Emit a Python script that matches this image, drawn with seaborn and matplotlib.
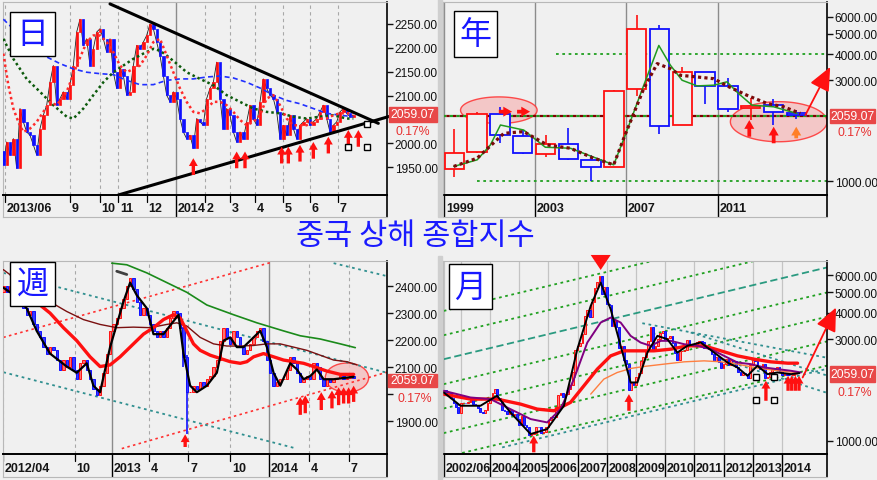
import numpy as np
import matplotlib
matplotlib.use('Agg')
import matplotlib.pyplot as plt
import seaborn as sns
from matplotlib.patches import Rectangle, Ellipse
from matplotlib.ticker import FormatStrFormatter, NullLocator, FixedLocator, NullFormatter

sns.set_theme(style='white')
plt.rcParams['font.family'] = ['Liberation Sans', 'DejaVu Sans']

BG = '#f0f0f0'
UP, DN = '#ff1010', '#1010ff'

# ---------------- 日 (daily) ----------------
d_open0 = 1985
d_close = [1955, 2003, 1976, 2010, 1948, 2073, 2045, 2024, 2017, 1997,
           1976, 2031, 2059, 2080, 2128, 2163, 2080, 2094, 2108, 2094,
           2122, 2163, 2233, 2260, 2205, 2219, 2163, 2198, 2233, 2240,
           2219, 2191, 2219, 2149, 2115, 2156, 2142, 2101, 2108, 2163,
           2205, 2198, 2212, 2226, 2250, 2240, 2212, 2184, 2142, 2101,
           2087, 2108, 2094, 2052, 2024, 2010, 2017, 1990, 2052, 2045,
           2038, 2094, 2115, 2128, 2170, 2094, 2031, 2073, 2059, 2024,
           2003, 2024, 2010, 2045, 2080, 2052, 2038, 2087, 2135, 2115,
           2101, 2094, 2066, 2010, 2038, 2017, 2059, 2031, 2010, 2038,
           2045, 2052, 2038, 2045, 2052, 2066, 2080, 2052, 2024, 2038,
           2045, 2066, 2073, 2063, 2056, 2059.07]
d_ticks = [0.5, 20, 29, 34.5, 43, 51.8, 60.5, 68, 75.5, 84, 92, 100.5]
d_labels = ['2013/06', '9', '10', '11', '12', '2014', '2', '3', '4', '5', '6', '7']
d_year = [False, False, False, False, False, True, False, False, False, False, False, False]
d_yticks = [1950, 2000, 2100, 2150, 2200, 2250]

d_ma20_x = [0, 1.5, 3, 4.5, 6, 8, 10, 12, 14, 16, 19, 22, 25, 27, 29, 31, 33, 35, 37, 39,
            41, 43, 45, 47, 49, 51, 53, 55, 57, 59, 61, 63, 65, 67, 69, 71, 73, 75, 77, 79,
            81, 83, 85, 87, 89, 91, 93, 95, 97, 99, 101, 105]
d_ma20_y = [2188, 2122, 2073, 2045, 2024, 2031, 2045, 2066, 2087, 2080, 2108, 2163, 2212, 2226,
            2226, 2212, 2191, 2163, 2149, 2156, 2163, 2184, 2212, 2219, 2184, 2149, 2115, 2087,
            2066, 2063, 2073, 2087, 2087, 2080, 2066, 2049, 2038, 2045, 2059, 2094, 2101, 2080,
            2052, 2038, 2038, 2038, 2045, 2052, 2052, 2059, 2063, 2063]
d_ma60_x = [0, 3, 7, 11, 15, 19, 21, 24, 27, 30, 33, 36, 39, 42, 45, 47, 49, 52, 55, 59,
            63, 67, 71, 75, 79, 83, 87, 91, 95, 99, 103, 105]
d_ma60_y = [2219, 2177, 2135, 2108, 2080, 2056, 2052, 2073, 2101, 2128, 2149, 2163, 2177, 2188,
            2198, 2194, 2184, 2167, 2149, 2135, 2122, 2101, 2087, 2073, 2066, 2063, 2056, 2052,
            2056, 2059, 2052, 2052]
d_ma120_x = [0, 5, 9, 13, 17, 21, 25, 29, 33, 37, 41, 45, 49, 53, 57, 61, 65, 69, 73, 77,
             81, 85, 89, 93, 97, 101, 105]
d_ma120_y = [2260, 2226, 2198, 2181, 2167, 2156, 2149, 2146, 2144, 2132, 2123, 2123, 2132, 2135,
             2135, 2139, 2141, 2137, 2128, 2116, 2101, 2090, 2083, 2073, 2063, 2059, 2056]
d_trend_hi = ([32, 112.5], [2292, 2042])
d_trend_lo = ([34.5, 118], [1892, 2061])
d_arrow_x = [57, 70, 72.5, 83.5, 85.5, 89, 93, 97.5, 103.5, 106.5]
d_arrow_tip = [1969, 1983, 1983, 1993, 1993, 1997, 2003, 2014, 2028, 2028]
d_arrow_tail = [1934, 1948, 1948, 1958, 1958, 1962, 1968, 1979, 1993, 1993]
d_box_x = [103.5, 109, 109]
d_box_y = [1993, 1993, 2040]

# ---------------- 年 (yearly) ----------------
y_year = list(range(1999, 2015))
y_open = [1144, 1368, 2077, 1643, 1347, 1492, 1261, 1163, 2728, 5265, 1849, 3289, 2825, 2212, 2289, 2112]
y_high = [1756, 2125, 2245, 1748, 1649, 1783, 1329, 2698, 6124, 5522, 3478, 3306, 3067, 2478, 2444, 2177]
y_low = [1047, 1361, 1514, 1339, 1307, 1259, 998, 1161, 2541, 1664, 1844, 2319, 2134, 1949, 1849, 1974]
y_close = [1366, 2073, 1646, 1357, 1497, 1266, 1161, 2675, 5262, 1821, 3277, 2808, 2199, 2269, 2116, 2059.07]
y_ticks = [1999, 2003, 2007, 2011]
y_labels = ['1999', '2003', '2007', '2011']
y_yticks = [1000, 3000, 4000, 5000, 6000]
y_green_x = [1999.42, 2000.45, 2001.03, 2001.47, 2002.49, 2003.44, 2004.54, 2005.49, 2006.44,
             2006.95, 2007.76, 2008.42, 2008.93, 2009.44, 2010.10, 2010.83, 2011.41, 2011.92,
             2012.51, 2013.46, 2014.48]
y_green_y = [1173, 1261, 1484, 1844, 1746, 1447, 1431, 1307, 1194, 1654, 2848, 4395, 3539, 3007,
             2826, 2848, 2955, 2599, 2290, 2250, 2092]
y_maroon_x = [1999.42, 2000.45, 2001.62, 2002.49, 2003.52, 2004.54, 2005.49, 2006.44, 2006.88,
              2007.76, 2008.35, 2008.93, 2009.37, 2010.83, 2011.41, 2012.29, 2013.17, 2013.90, 2014.63]
y_maroon_y = [1173, 1284, 1684, 1716, 1484, 1431, 1293, 1194, 1595, 2745, 3605, 3410, 3174, 3058,
              2826, 2551, 2333, 2250, 2092]
y_levels = [(4000, 2003.9), (1000, 2000.45)]
y_mid_level = 2040
y_ellipses = [(2001.4, 2168, 1.68, 0.063), (2013.68, 1912, 2.12, 0.095)]
y_right_arrows = [(2001.40, 2001.98, 2133), (2002.20, 2002.77, 2133)]
y_up_arrows = [(2012.39, 1623, 1946, '#ff1010'), (2013.46, 1511, 1810, '#ff1010'),
               (2014.45, 1595, 1810, '#ff7f27')]
y_big_arrow = ((2014.85, 2055), (2015.94, 3475))

# ---------------- 週 (weekly) ----------------
w_open0 = 2380
w_close = [2402, 2378, 2402, 2414, 2390, 2355, 2319, 2295, 2307, 2259,
           2235, 2211, 2175, 2151, 2175, 2163, 2127, 2092, 2127, 2103,
           2139, 2092, 2056, 2115, 2127, 2092, 2056, 2020, 1996, 2032,
           2080, 2151, 2235, 2259, 2283, 2319, 2355, 2402, 2432, 2390,
           2343, 2295, 2319, 2295, 2259, 2235, 2211, 2235, 2211, 2247,
           2283, 2307, 2301, 2247, 2139, 2008, 2008, 2032, 2020, 2044,
           2032, 2056, 2068, 2103, 2127, 2199, 2247, 2211, 2187, 2235,
           2211, 2175, 2151, 2163, 2187, 2211, 2235, 2247, 2199, 2127,
           2080, 2032, 2044, 2056, 2056, 2092, 2139, 2115, 2080, 2044,
           2056, 2068, 2056, 2115, 2103, 2056, 2032, 2056, 2044, 2056,
           2062, 2068, 2056, 2062, 2068, 2059.07]
w_wick_x = [54, 55]
w_wick_lo = [2100, 1852]
w_wick_hi = [2250, 2145]
w_ticks = [0, 21.5, 32.5, 43.8, 55.5, 68, 79.5, 91.5, 103.5]
w_labels = ['2012/04', '10', '2013', '4', '7', '10', '2014', '4', '7']
w_year = [False, False, True, False, False, False, True, False, False]
w_yticks = [1900, 2100, 2200, 2300, 2400]
w_minor = [2000]
w_black_x = [0, 3, 7, 10, 14, 19, 22, 25, 27, 29, 32, 34, 36, 38, 40, 43, 45, 48, 51, 52.5,
             54, 56, 58, 61, 64, 66, 68, 70, 72, 74, 77, 79, 81, 83, 86, 88, 90, 92, 94, 96, 99, 105]
w_black_y = [2395, 2370, 2319, 2235, 2151, 2103, 2080, 2115, 2032, 2008, 2175, 2259, 2343, 2414,
             2367, 2319, 2223, 2223, 2271, 2295, 2151, 2032, 2008, 2032, 2080, 2199, 2211, 2175,
             2175, 2199, 2235, 2175, 2080, 2032, 2115, 2092, 2056, 2068, 2092, 2056, 2056, 2065]
w_red_x = [3, 11, 14, 18, 22, 26, 29, 32, 35, 39, 42, 45, 48, 51, 53, 55, 57, 59, 62, 65, 68,
           71, 73, 75, 78, 81, 84, 87, 90, 93, 97, 101, 105]
w_red_y = [2372, 2331, 2301, 2247, 2199, 2139, 2103, 2109, 2139, 2187, 2223, 2247, 2277, 2295,
           2283, 2235, 2187, 2163, 2145, 2133, 2121, 2115, 2121, 2139, 2151, 2139, 2127, 2121,
           2115, 2103, 2086, 2074, 2074]
w_maroon_x = [0, 9, 14, 19, 24, 29, 34, 39, 44, 49, 52, 55, 59, 63, 67, 71, 75, 79, 83, 87, 91,
              95, 99, 103, 106]
w_maroon_y = [2462, 2378, 2343, 2307, 2277, 2259, 2247, 2249, 2247, 2259, 2265, 2253, 2211, 2187,
              2179, 2179, 2181, 2187, 2187, 2175, 2163, 2145, 2127, 2121, 2109]
w_green_x = [32.5, 37, 43, 49, 55, 61, 69, 76, 84, 89, 95, 101, 105.5]
w_green_y = [2486, 2480, 2450, 2414, 2378, 2331, 2295, 2265, 2235, 2217, 2205, 2187, 2173]
w_gray_seg = ([34, 37], [2456, 2444])
w_red_lines = [([0, 80], [2211, 2488]), ([35.5, 115], [1799, 2082])]
w_teal_lines = [([0, 115], [2450, 2080]), ([0, 87], [2082, 1802]), ([99, 115], [2486, 2438])]
w_ellipse = (103, 2062, 13, 108)
w_arrow_x = [54.5, 89, 90.5, 95.3, 98.5, 100.5, 102, 103.5, 105]
w_arrow_tip = [1852, 1990, 1996, 2008, 2014, 2026, 2026, 2026, 2032]
w_arrow_tail = [1805, 1924, 1930, 1942, 1948, 1960, 1966, 1966, 1972]

# ---------------- 月 (monthly) ----------------
m_open0 = 1673
m_close = [1732, 1652, 1669, 1581, 1507, 1442, 1357,
           1499, 1511, 1510, 1521, 1576, 1487, 1477, 1421, 1367, 1348, 1397, 1497,
           1590, 1675, 1742, 1595, 1555, 1399, 1386, 1342, 1396, 1320, 1340, 1266,
           1191, 1306, 1181, 1159, 1060, 1080, 1083, 1162, 1155, 1092, 1099, 1161,
           1258, 1299, 1298, 1440, 1641, 1672, 1612, 1658, 1752, 1837, 2099, 2675,
           2786, 2881, 3183, 3841, 4109, 3821, 4471, 5218, 5552, 5955, 4871, 5261,
           4383, 4348, 3472, 3693, 3433, 2736, 2776, 2397, 2293, 1729, 1871, 1821,
           1991, 2082, 2373, 2477, 2633, 2959, 3412, 2667, 2779, 2996, 3195, 3277,
           2989, 3051, 3110, 2871, 2592, 2398, 2638, 2639, 2656, 2979, 2820, 2808,
           2791, 2905, 2928, 2911, 2743, 2762, 2701, 2568, 2359, 2468, 2333, 2199,
           2292, 2428, 2263, 2397, 2373, 2225, 2103, 2047, 2086, 2069, 1980, 2269,
           2385, 2366, 2237, 2178, 2301, 1979, 1994, 2098, 2175, 2141, 2220, 2116,
           2033, 2056, 2033, 2026, 2039, 2048, 2059.07]
m_ticks = [0, 19, 31, 43, 55, 67, 79, 91, 103, 115, 127, 139]
m_labels = ['2002/06', '2004', '2005', '2006', '2007', '2008', '2009', '2010', '2011', '2012', '2013', '2014']
m_extra_grid = [7]
m_yticks = [1000, 3000, 4000, 5000, 6000]
m_black_x = [0, 6.9, 15.1, 21.9, 27.4, 35.7, 42.5, 49.4, 54.9, 60.4, 64.5, 68.6, 72.7, 76.8, 79.6,
             83.7, 87.8, 91.9, 96.0, 100.1, 105.6, 111.1, 116.6, 120.7, 124.8, 128.9, 133.1, 137.2,
             142.7, 146.1]
m_black_y = [1686, 1460, 1460, 1627, 1359, 1075, 1134, 1460, 2694, 4303, 5538, 4151, 2793, 1879,
             1879, 2598, 3112, 3002, 2598, 2793, 2895, 2598, 2332, 2210, 2020, 2250, 2056, 2093,
             2056, 2078]
m_purple_x = [0, 11, 19.2, 27.4, 35.7, 42.5, 48, 53.5, 59, 64.5, 68.6, 72.7, 76.8, 80.9, 85, 89.2,
              93.3, 98.8, 104.3, 109.7, 115.2, 120.7, 126.2, 131.7, 137.2, 142.7, 146.8]
m_purple_y = [1717, 1597, 1569, 1408, 1264, 1219, 1408, 1948, 2895, 3594, 3793, 3594, 3112, 2895,
              2793, 2948, 2948, 2843, 2793, 2694, 2506, 2332, 2291, 2210, 2170, 2132, 2093]
m_red_x = [0, 11, 21.9, 31.6, 38.4, 45.3, 52.1, 57.6, 63.1, 68.6, 74.1, 79.6, 86.4, 93.3, 100.1,
           107, 113.9, 120.7, 127.6, 134.4, 141.3, 145.4]
m_red_y = [1656, 1569, 1569, 1486, 1408, 1383, 1514, 1812, 2170, 2506, 2646, 2646, 2646, 2694,
           2793, 2793, 2646, 2506, 2417, 2349, 2315, 2315]
m_orange_x = [60.4, 65.8, 71.3, 76.8, 82.3, 90.5, 98.8, 107, 113.9, 120.7, 127.6, 134.4, 141.3, 145.4]
m_orange_y = [1656, 1948, 2093, 2186, 2234, 2291, 2349, 2374, 2349, 2291, 2210, 2154, 2108, 2093]
m_fan_x = [0, 157.5]
m_fan_left = [4076, 3134, 2417, 1845, 1418, 1086, 835]
m_fan_right = [11003, 8453, 6526, 4977, 3826, 2931, 2254]
m_teal_lines = [([81.6, 157], [3568, 2462]), ([101.5, 157], [3226, 2034]),
                ([113.9, 157], [2417, 1686]), ([24, 157], [930, 2170])]
m_up_arrows = [(37, 882, 1056), (76.1, 1383, 1656), (132.4, 1541, 1913),
               (141.5, 1717, 2020), (143, 1717, 2020), (144.5, 1717, 2020), (146, 1717, 2020)]
m_down_arrow = (64.5, 6873, 6351)
m_big_arrow = ((147.5, 1983), (161.2, 4227))
m_box_x = [128.3, 135.8, 128.3, 135.8]
m_box_y = [1983, 1983, 1557, 1557]

# ---------------- helpers ----------------
W, H = 877, 481
fig = plt.figure(figsize=(W / 100, H / 100), dpi=100, facecolor=BG)


def fax(x0, y0, x1, y1):
    return fig.add_axes([x0 / W, 1 - y1 / H, (x1 - x0) / W, (y1 - y0) / H])


def frect(x0, y0, x1, y1, **kw):
    fig.patches.append(Rectangle((x0 / W, 1 - y1 / H), (x1 - x0) / W, (y1 - y0) / H,
                                 transform=fig.transFigure, **kw))


def ftext(x, y, s, **kw):
    fig.text(x / W, 1 - y / H, s, ha='center', va='center', **kw)


def panel(ax, st, xlim, ylim, yticks, ticks, labels, solid, log=False, grid='dash', extra=(), minor=()):
    ax.set_facecolor(BG)
    if log:
        ax.set_yscale('log')
    ax.set_xlim(xlim)
    ax.set_ylim(ylim)
    ax.yaxis.tick_right()
    ax.set_yticks(yticks)
    ax.yaxis.set_major_formatter(FormatStrFormatter('%.2f'))
    ax.yaxis.set_minor_locator(FixedLocator(list(minor)) if minor else NullLocator())
    ax.yaxis.set_minor_formatter(NullFormatter())
    ax.tick_params(axis='y', which='both', direction='out', length=4, width=1, pad=1.5,
                   labelsize=8.6, colors='#111111', right=True, left=False)
    ax.set_xticks([])
    for sp in ['left', 'top', 'bottom']:
        ax.spines[sp].set_color('#b8b8b8')
        ax.spines[sp].set_linewidth(0.8)
    ax.spines['right'].set_color('black')
    ax.spines['right'].set_linewidth(1.2)
    for t, s in zip(list(ticks) + list(extra), list(solid) + [False] * len(extra)):
        if grid == 'solid':
            ax.axvline(t, color='#c4c4c4', lw=0.9, zorder=0)
        elif s:
            ax.axvline(t, color='#8c8c8c', lw=1.0, zorder=0)
        else:
            ax.axvline(t, color='#a8a8a8', lw=0.8, ls=(0, (3, 3)), zorder=0)
    st.set_facecolor(BG)
    st.set_xlim(xlim)
    st.set_ylim(0, 1)
    st.set_xticks([])
    st.set_yticks([])
    for sp in ['left', 'bottom']:
        st.spines[sp].set_color('#b8b8b8')
        st.spines[sp].set_linewidth(0.8)
    st.spines['top'].set_color('black')
    st.spines['top'].set_linewidth(1.4)
    st.spines['right'].set_color('black')
    st.spines['right'].set_linewidth(1.2)
    for t, lab, s in zip(ticks, labels, solid):
        st.plot([t, t], [1, 0 if s else 0.7], color='black', lw=1.0 if s else 0.9)
        st.annotate(lab, (t, 0.4), xytext=(1.2, 0), textcoords='offset points',
                    ha='left', va='center', fontsize=9, fontweight='bold', color='#151515')


def candles(ax, x, o, c, w, up_face, dn_face, lw=0.6, z=3):
    x, o, c = np.asarray(x, float), np.asarray(o, float), np.asarray(c, float)
    up = c >= o
    ax.bar(x[up], (c - o)[up], bottom=o[up], width=w, color=up_face, edgecolor=UP,
           linewidth=lw, zorder=z)
    ax.bar(x[~up], (o - c)[~up], bottom=c[~up], width=w, color=dn_face, edgecolor=DN,
           linewidth=lw, zorder=z)


def line(ax, xs, ys, color, lw, ls='-', z=4):
    sns.lineplot(x=xs, y=ys, ax=ax, color=color, linewidth=lw, linestyle=ls,
                 sort=False, estimator=None, zorder=z)


ARROW = 'simple,head_width=0.8,head_length=0.7,tail_width=0.3'


def up_arrow(ax, x, tail, tip, color='#ff1010', scale=8):
    ax.annotate('', xy=(x, tip), xytext=(x, tail), annotation_clip=False,
                arrowprops=dict(arrowstyle=ARROW, color=color, lw=0, mutation_scale=scale,
                                shrinkA=0, shrinkB=0), zorder=6)


def big_arrow(ax, start, end):
    ax.annotate('', xy=end, xytext=start, annotation_clip=False,
                arrowprops=dict(arrowstyle='-|>,head_width=0.4,head_length=0.9', color='#ff1010',
                                lw=1.3, mutation_scale=16, shrinkA=0, shrinkB=0), zorder=6)


def prev_open(first, closes):
    return [first] + list(closes[:-1])


# ---------------- 日 ----------------
ax = fax(3, 3, 387, 196)
st = fax(3, 196, 387, 218)
panel(ax, st, (-0.1, 115.1), (1892, 2296), d_yticks, d_ticks, d_labels, d_year)
dx = np.arange(len(d_close))
line(ax, dx, d_close, '#202020', 0.6, z=2)
candles(ax, dx, prev_open(d_open0, d_close), d_close, 0.7, UP, DN, lw=0.5)
line(ax, d_ma120_x, d_ma120_y, '#2030ff', 1.2, (0, (3, 2)))
line(ax, d_ma60_x, d_ma60_y, '#0c5a0c', 1.8, (0, (1, 1.2)))
line(ax, d_ma20_x, d_ma20_y, '#ff2a2a', 1.8, (0, (1, 1.2)))
for xs, ys in [d_trend_hi, d_trend_lo]:
    ax.plot(xs, ys, color='black', lw=2.2, zorder=5, clip_on=False, solid_capstyle='round')
for x, tip, tail in zip(d_arrow_x, d_arrow_tip, d_arrow_tail):
    up_arrow(ax, x, tail, tip)
ax.plot(d_box_x, d_box_y, 's', ms=4.2, mfc='white', mec='black', mew=1, ls='none', zorder=6)

# ---------------- 年 ----------------
ax = fax(443, 3, 827, 196)
st = fax(443, 196, 827, 218)
panel(ax, st, (1998.95, 2015.8), (859, 7063), y_yticks, y_ticks, y_labels, [True] * 4, log=True)
for cx, cv, a, b in y_ellipses:
    t = np.linspace(0, 2 * np.pi, 120)
    ax.fill(cx + a * np.cos(t), 10 ** (np.log10(cv) + b * np.sin(t)), facecolor='#f4c0c0',
            edgecolor='#ff3030', lw=1.0, alpha=0.85, zorder=1)
for lvl, x0 in y_levels:
    ax.plot([x0, 2015.8], [lvl, lvl], color='#20a020', lw=1.3, ls=(0, (1.5, 2)), zorder=2)
ax.plot([1998.95, 2015.8], [y_mid_level, y_mid_level], color='#20a020', lw=1.6, ls=(0, (1.5, 1.5)), zorder=2)
ax.plot([1998.95, 2015.8], [y_mid_level, y_mid_level], color='#800000', lw=1.6, ls=(1.5, (1.5, 1.5)), zorder=2)
yx = np.array(y_year) + 0.45
up = np.array(y_close) >= np.array(y_open)
ax.vlines(yx[up], np.array(y_low)[up], np.array(y_high)[up], color=UP, lw=1.2, zorder=2)
ax.vlines(yx[~up], np.array(y_low)[~up], np.array(y_high)[~up], color=DN, lw=1.2, zorder=2)
candles(ax, yx, y_open, y_close, 0.85, BG, BG, lw=1.3)
line(ax, y_green_x, y_green_y, '#209a20', 1.1)
line(ax, y_maroon_x, y_maroon_y, '#7a0a0a', 2.3, (0, (1, 1)))
for x0, x1, v in y_right_arrows:
    ax.annotate('', xy=(x1, v), xytext=(x0, v),
                arrowprops=dict(arrowstyle=ARROW, color='#ff1010', lw=0, mutation_scale=9,
                                shrinkA=0, shrinkB=0), zorder=6)
for x, tail, tip, col in y_up_arrows:
    up_arrow(ax, x, tail, tip, col, 9)
big_arrow(ax, *y_big_arrow)

# ---------------- 週 ----------------
ax = fax(3, 262, 387, 455)
st = fax(3, 455, 387, 478)
panel(ax, st, (-0.1, 115), (1779, 2494), w_yticks, w_ticks, w_labels, w_year, minor=w_minor)
e_x, e_y, e_w, e_h = w_ellipse
ax.add_patch(Ellipse((e_x, e_y), e_w, e_h, facecolor='#f4c0c0', edgecolor='#ff3030', lw=1.0,
                     alpha=0.85, zorder=1))
for xs, ys in w_red_lines:
    ax.plot(xs, ys, color='#ff3030', lw=1.2, ls=(0, (1.5, 2)), zorder=2)
for xs, ys in w_teal_lines:
    ax.plot(xs, ys, color='#2f8f8f', lw=1.3, ls=(0, (1.5, 2)), zorder=2)
wx = np.arange(len(w_close))
ax.vlines(w_wick_x, w_wick_lo, w_wick_hi, color=DN, lw=1.2, zorder=3)
candles(ax, wx, prev_open(w_open0, w_close), w_close, 0.7, '#ff7070', '#3a3aff', lw=0.7)
line(ax, w_green_x, w_green_y, '#1a8a1a', 1.2)
line(ax, w_maroon_x, w_maroon_y, '#7a1010', 1.0)
line(ax, w_red_x, w_red_y, '#ff1010', 2.4)
line(ax, w_black_x, w_black_y, '#000000', 1.6, z=5)
ax.plot(*w_gray_seg, color='#404040', lw=2, zorder=5)
for x, tip, tail in zip(w_arrow_x, w_arrow_tip, w_arrow_tail):
    up_arrow(ax, x, tail, tip)

# ---------------- 月 ----------------
ax = fax(443, 262, 827, 455)
st = fax(443, 455, 827, 478)
panel(ax, st, (-0.3, 157.5), (866, 6998), m_yticks, m_ticks, m_labels, [True] * 12,
      log=True, grid='solid', extra=m_extra_grid)
for i, (lv, rv) in enumerate(zip(m_fan_left, m_fan_right)):
    if i == 2:
        ax.plot(m_fan_x, [lv, rv], color='#2a9a80', lw=1.3, ls=(0, (4, 2)), zorder=2)
    else:
        ax.plot(m_fan_x, [lv, rv], color='#20a020', lw=1.3, ls=(0, (1.5, 2)), zorder=2)
for xs, ys in m_teal_lines:
    ax.plot(xs, ys, color='#2f8f8f', lw=1.3, ls=(0, (1.5, 2)), zorder=2)
mx = np.arange(len(m_close))
candles(ax, mx, prev_open(m_open0, m_close), m_close, 0.7, '#ff8080', '#2a2aff', lw=0.7)
line(ax, m_orange_x, m_orange_y, '#ff7f40', 1.0)
line(ax, m_red_x, m_red_y, '#ff1010', 2.4)
line(ax, m_purple_x, m_purple_y, '#800080', 1.4)
line(ax, m_black_x, m_black_y, '#000000', 1.4, z=5)
for x, tail, tip in m_up_arrows:
    up_arrow(ax, x, tail, tip)
dxm, d_tail, d_tip = m_down_arrow
ax.annotate('', xy=(dxm, d_tip), xytext=(dxm, d_tail), annotation_clip=False,
            arrowprops=dict(arrowstyle='-|>,head_width=0.6,head_length=0.9', color='#ff1010',
                            lw=0, mutation_scale=12, shrinkA=0, shrinkB=0), zorder=6)
big_arrow(ax, *m_big_arrow)
ax.plot(m_box_x, m_box_y, 's', ms=4.2, mfc='white', mec='black', mew=1, ls='none', zorder=6)

# ---------------- figure decorations ----------------
frect(438, 0, 442, 218, color='#cfcfcf', zorder=1)
frect(438, 257, 442, 481, color='#cfcfcf', zorder=1)

for (x0, y0, x1, y1), ch in [((10, 13, 55, 57), '日'), ((454, 12, 497, 58), '年'),
                             ((10, 263, 55, 307), '週'), ((449, 265, 492, 310), '月')]:
    frect(x0, y0, x1, y1, facecolor='white', edgecolor='black', lw=1.0, zorder=7)
    ftext((x0 + x1) / 2, (y0 + y1) / 2, ch, fontsize=23, color='#1818ff',
          family=['Noto Sans CJK JP', 'DejaVu Sans'], zorder=8)

for (x0, y0, x1, y1), (px, py) in [((389, 108, 437, 123), (413, 132)),
                                   ((830, 110, 875, 124), (855, 133)),
                                   ((388, 375, 437, 388), (415, 399)),
                                   ((830, 367, 875, 383), (855, 393))]:
    frect(x0, y0, x1, y1, color='#e84848', zorder=7)
    ftext((x0 + x1) / 2, (y0 + y1) / 2, '2059.07', fontsize=8.8, color='white', zorder=8)
    ftext(px, py, '0.17%', fontsize=8.8, color='#e83030', zorder=8)

ftext(415, 237, '중국 상해 종합지수', fontsize=22, color='#1a1aff',
      family=['Noto Sans CJK KR', 'DejaVu Sans'])

fig.savefig('out.png', dpi=100, facecolor=BG)
